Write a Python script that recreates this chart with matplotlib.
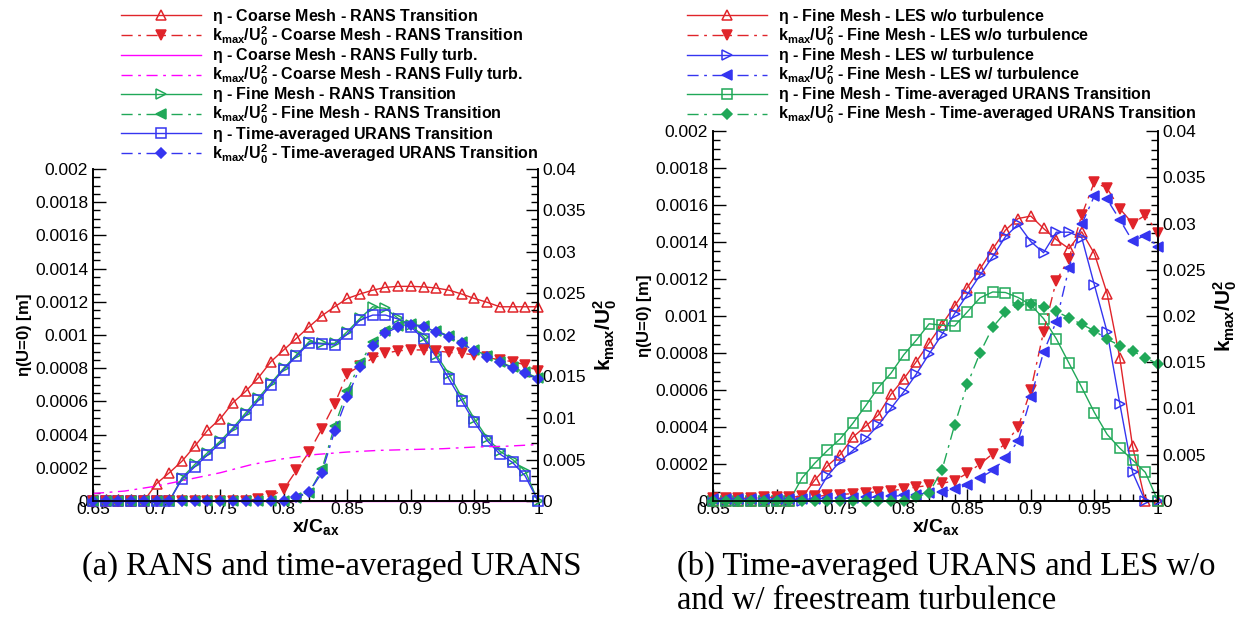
import matplotlib
matplotlib.use('Agg')
import matplotlib.pyplot as plt
from matplotlib.ticker import MultipleLocator, FormatStrFormatter

plt.rcParams['font.family'] = 'Liberation Sans'
plt.rcParams['mathtext.fontset'] = 'custom'
plt.rcParams['mathtext.rm'] = 'Liberation Sans'
plt.rcParams['mathtext.it'] = 'Liberation Sans:italic'
plt.rcParams['mathtext.bf'] = 'Liberation Sans:bold'
plt.rcParams['mathtext.default'] = 'regular'

x = [0.65, 0.66, 0.67, 0.68, 0.69, 0.70, 0.71, 0.72, 0.73, 0.74, 0.75, 0.76,
     0.77, 0.78, 0.79, 0.80, 0.81, 0.82, 0.83, 0.84, 0.85, 0.86, 0.87, 0.88,
     0.89, 0.90, 0.91, 0.92, 0.93, 0.94, 0.95, 0.96, 0.97, 0.98, 0.99, 1.00]

# (a) RANS and time-averaged URANS
eta_coarse_trans = [0, 0, 0, 0, 0, 0.000105, 0.00017, 0.00024, 0.00033, 0.000425, 0.000495,
                    0.000592, 0.00066, 0.000742, 0.00084, 0.00091, 0.00098, 0.00105, 0.001116,
                    0.00117, 0.00122, 0.001247, 0.00127, 0.001287, 0.001293, 0.001293, 0.00129,
                    0.001283, 0.00127, 0.001247, 0.00122, 0.001197, 0.00117, 0.00117, 0.00117, 0.00117]
k_coarse_trans = [0] * 13 + [0.0003, 0.0006, 0.0014, 0.0037, 0.0059, 0.0087, 0.0117, 0.0153, 0.0163,
                             0.0172, 0.0178, 0.0181, 0.0182, 0.0182, 0.0181, 0.0179, 0.0178, 0.0176,
                             0.0173, 0.017, 0.0168, 0.0164, 0.0157]
eta_coarse_turb = [0] * 36
x_turb = [0.65, 0.675, 0.70, 0.725, 0.75, 0.775, 0.80, 0.825, 0.85, 0.875, 0.90, 0.925, 0.95, 0.975, 1.00]
k_coarse_turb = [0.0009, 0.0012, 0.0018, 0.0026, 0.0034, 0.0044, 0.0051, 0.0056, 0.0059, 0.0061,
                 0.0062, 0.0063, 0.0065, 0.0066, 0.0068]
eta_fine_trans = [0] * 7 + [0.00014, 0.00022, 0.00029, 0.00036, 0.00044, 0.00053, 0.00062, 0.00071,
                            0.0008, 0.00088, 0.00096, 0.00095, 0.00095, 0.00102, 0.0011, 0.00117,
                            0.00116, 0.0011, 0.00106, 0.00099, 0.00088, 0.000765, 0.000625, 0.000494,
                            0.00038, 0.0003, 0.00025, 0.00018, 0]
k_fine_trans = [0] * 16 + [0.0004, 0.001, 0.0038, 0.009, 0.0133, 0.0166, 0.0191, 0.0205, 0.0211, 0.0213,
                           0.0211, 0.0205, 0.0199, 0.0191, 0.0182, 0.0175, 0.0168, 0.0161, 0.0155, 0.0148]
eta_urans = [0] * 7 + [0.000131, 0.000206, 0.000277, 0.000347, 0.00043, 0.000516, 0.000606, 0.0007,
                       0.000792, 0.000873, 0.00095, 0.000946, 0.00094, 0.001006, 0.00109, 0.00112,
                       0.00112, 0.001096, 0.00105, 0.000976, 0.000867, 0.000735, 0.000604, 0.000474,
                       0.000364, 0.000283, 0.000232, 0.00015, 0]
k_urans = [0] * 16 + [0.0005, 0.0011, 0.0034, 0.0084, 0.0125, 0.0161, 0.0187, 0.0202, 0.021, 0.0212,
                      0.021, 0.0204, 0.0198, 0.019, 0.0181, 0.0174, 0.0167, 0.016, 0.0154, 0.0147]

# (b) time-averaged URANS and LES
eta_les_wo = [0] * 7 + [0.00002, 0.000113, 0.00019, 0.00025, 0.000345, 0.000404, 0.000465, 0.000577,
                        0.00066, 0.000754, 0.000855, 0.000953, 0.001054, 0.001154, 0.001254, 0.001362,
                        0.001464, 0.001527, 0.00154, 0.001473, 0.001413, 0.001364, 0.001455, 0.001337,
                        0.001121, 0.000772, 0.000295, 0, 0]
k_les_wo = [0.0003, 0.0003, 0.0003, 0.0003, 0.0004, 0.0004, 0.0004, 0.0005, 0.0005, 0.0006,
            0.0007, 0.0008, 0.0009, 0.001, 0.0011, 0.0013, 0.0015, 0.0017, 0.0019, 0.0022,
            0.003, 0.004, 0.0051, 0.0062, 0.008, 0.012, 0.0183, 0.0238, 0.0262, 0.0309,
            0.0345, 0.0338, 0.0316, 0.03, 0.0309, 0.029]
eta_les_w = [0] * 8 + [0.00002, 0.000136, 0.000215, 0.000273, 0.000336, 0.00041, 0.000501, 0.00059,
                       0.000687, 0.000795, 0.000899, 0.001013, 0.001116, 0.001221, 0.001321, 0.001429,
                       0.001496, 0.001402, 0.001342, 0.001453, 0.001453, 0.001424, 0.001167, 0.000913,
                       0.000524, 0.000155, 0, 0]
k_les_w = [0.0002, 0.0002, 0.0002, 0.0002, 0.0002, 0.0002, 0.0002, 0.0002, 0.0002, 0.0003,
           0.0003, 0.0003, 0.0004, 0.0004, 0.0005, 0.0006, 0.0007, 0.0009, 0.001, 0.0013,
           0.0017, 0.0025, 0.0033, 0.0046, 0.0065, 0.0112, 0.0161, 0.0194, 0.0252, 0.0299,
           0.033, 0.0326, 0.0304, 0.0281, 0.0287, 0.0275]
eta_urans_fine = [0] * 7 + [0.000124, 0.000204, 0.000273, 0.000336, 0.00042, 0.000514, 0.000613, 0.000691,
                            0.00079, 0.00087, 0.000958, 0.00095, 0.000946, 0.001022, 0.001098, 0.00113,
                            0.001127, 0.0011, 0.00106, 0.000986, 0.000877, 0.000745, 0.000614, 0.000478,
                            0.00036, 0.000285, 0.000222, 0.000155, 0]
k_urans_fine = [0] * 16 + [0.00044, 0.0009, 0.0033, 0.0082, 0.0126, 0.016, 0.0188, 0.0204, 0.0212, 0.0213,
                           0.021, 0.0205, 0.0198, 0.0191, 0.0184, 0.0175, 0.0168, 0.0162, 0.0155, 0.0148]

RED = '#e0242a'
GREEN = '#20a858'
BLUE = '#3535f0'
MAGENTA = '#ff00ff'
DASHDOT = (0, (8, 4, 2, 4))

ETA = r'$\eta$'
KMAX = r'$\mathbf{k_{max}/U_0^2}$'


def setup_axes(ax):
    ax.set_xlim(0.65, 1.0)
    ax.set_ylim(0, 0.002)
    ax2 = ax.twinx()
    ax2.set_ylim(0, 0.04)
    for a in (ax, ax2):
        a.spines['top'].set_visible(False)
        for s in a.spines.values():
            s.set_linewidth(1.2)
        a.tick_params(which='both', direction='in', labelsize=12.5, width=1)
        a.tick_params(which='major', length=9)
        a.tick_params(which='minor', length=5)
    ax.xaxis.set_major_locator(MultipleLocator(0.05))
    ax.xaxis.set_minor_locator(MultipleLocator(0.01))
    ax.xaxis.set_major_formatter(FormatStrFormatter('%g'))
    ax.yaxis.set_major_locator(MultipleLocator(0.0002))
    ax.yaxis.set_minor_locator(MultipleLocator(0.00005))
    ax.yaxis.set_major_formatter(FormatStrFormatter('%g'))
    ax2.yaxis.set_major_locator(MultipleLocator(0.005))
    ax2.yaxis.set_minor_locator(MultipleLocator(0.001))
    ax2.yaxis.set_major_formatter(FormatStrFormatter('%g'))
    ax.tick_params(axis='x', pad=1)
    ax.set_xlabel(r'$\mathbf{x/C_{ax}}$', fontsize=14, labelpad=0)
    ax.set_ylabel(ETA + '(U=0) [m]', fontsize=12, fontweight='bold', labelpad=1)
    ax2.set_ylabel(KMAX, fontsize=15, rotation=90, labelpad=4)
    return ax2


def draw(ax, xs, ys, color, marker, filled, dashed, label):
    ls = DASHDOT if dashed else '-'
    if marker is None:
        line, = ax.plot(xs, ys, color=color, linestyle=ls, linewidth=1.0, label=label, clip_on=False)
        return line
    line, = ax.plot(xs, ys, color=color, linestyle=ls, linewidth=1.0, marker=marker,
                    markersize=6.5 if marker != 'D' else 5.5,
                    markerfacecolor=color if filled else 'none',
                    markeredgecolor=color, markeredgewidth=1.1, label=label, clip_on=False)
    return line


def add_legend(handles, left):
    fig.legend(handles=handles, loc='upper left', bbox_to_anchor=(left / 1239, 0.989), frameon=False,
               prop={'weight': 'bold', 'size': 11.5}, handlelength=5.0, handletextpad=0.7,
               labelspacing=-0.09, borderpad=0, borderaxespad=0)


fig = plt.figure(figsize=(12.39, 6.18), dpi=100)

# left panel
axL = fig.add_axes([93 / 1239, 117 / 618, 445 / 1239, 332 / 618])
axL2 = setup_axes(axL)
h = []
h.append(draw(axL, x, eta_coarse_trans, RED, '^', False, False, ETA + ' - Coarse Mesh - RANS Transition'))
h.append(draw(axL2, x, k_coarse_trans, RED, 'v', True, True, KMAX + ' - Coarse Mesh - RANS Transition'))
h.append(draw(axL, x, eta_coarse_turb, MAGENTA, None, False, False, ETA + ' - Coarse Mesh - RANS Fully turb.'))
h.append(draw(axL2, x_turb, k_coarse_turb, MAGENTA, None, False, True, KMAX + ' - Coarse Mesh - RANS Fully turb.'))
h.append(draw(axL, x, eta_fine_trans, GREEN, '>', False, False, ETA + ' - Fine Mesh - RANS Transition'))
h.append(draw(axL2, x, k_fine_trans, GREEN, '<', True, True, KMAX + ' - Fine Mesh - RANS Transition'))
h.append(draw(axL, x, eta_urans, BLUE, 's', False, False, ETA + ' - Time-averaged URANS Transition'))
h.append(draw(axL2, x, k_urans, BLUE, 'D', True, True, KMAX + ' - Time-averaged URANS Transition'))
add_legend(h, 121)

# right panel
axR = fig.add_axes([713 / 1239, 117 / 618, 445 / 1239, 370 / 618])
axR2 = setup_axes(axR)
h = []
h.append(draw(axR, x, eta_les_wo, RED, '^', False, False, ETA + ' - Fine Mesh - LES w/o turbulence'))
h.append(draw(axR2, x, k_les_wo, RED, 'v', True, True, KMAX + ' - Fine Mesh - LES w/o turbulence'))
h.append(draw(axR, x, eta_les_w, BLUE, '>', False, False, ETA + ' - Fine Mesh - LES w/ turbulence'))
h.append(draw(axR2, x, k_les_w, BLUE, '<', True, True, KMAX + ' - Fine Mesh - LES w/ turbulence'))
h.append(draw(axR, x, eta_urans_fine, GREEN, 's', False, False, ETA + ' - Fine Mesh - Time-averaged URANS Transition'))
h.append(draw(axR2, x, k_urans_fine, GREEN, 'D', True, True, KMAX + ' - Fine Mesh - Time-averaged URANS Transition'))
add_legend(h, 687)

cap = {'family': 'Liberation Serif', 'fontsize': 23.5, 'va': 'center'}
fig.text(82 / 1239, 1 - 566 / 618, '(a) RANS and time-averaged URANS', **cap)
fig.text(677 / 1239, 1 - 566 / 618, '(b) Time-averaged URANS and LES w/o', **cap)
fig.text(677 / 1239, 1 - 601 / 618, 'and w/ freestream turbulence', **cap)

fig.savefig('out.png', dpi=100)
